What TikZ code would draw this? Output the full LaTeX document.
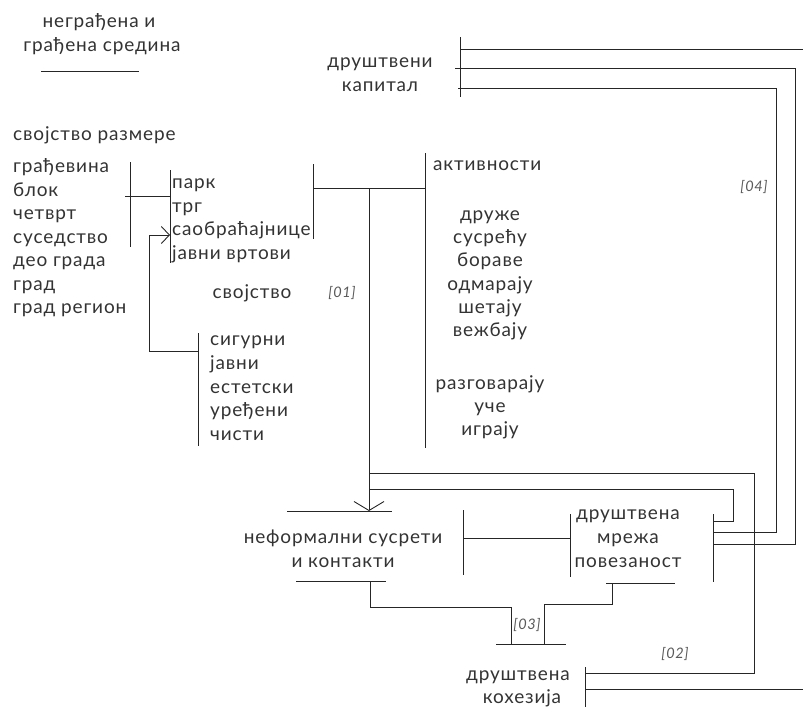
\documentclass[tikz,border=0pt]{standalone}
\usepackage{fontspec}
\setmainfont{Lato}[LetterSpace=4.5]
\usetikzlibrary{arrows.meta}

\tikzset{
  txt/.style={font=\fontsize{19}{23}\selectfont, text=black!80, inner sep=0pt, yshift=-2.5pt},
  tag/.style={font=\fontsize{14.5}{16}\selectfont\itshape, text=black!65, inner sep=0pt, yshift=-2pt},
  bar/.style={draw=black!85, line width=0.9pt},
}

\begin{document}
\begin{tikzpicture}[x=1pt,y=-1pt]
  \useasboundingbox (0,0) rectangle (803,720);

  % environment and scale
  \node[txt,anchor=mid] (env1) at (99,22) {неграђена и};
  \node[txt,anchor=mid] (env2) at (102,46) {грађена средина};
  \draw[bar] (41,71) -- (139,71);
  \node[txt,anchor=mid west] (scale) at (13,135) {својство размере};

  \foreach \t [count=\i] in {грађевина,блок,четврт,суседство,део града,град,град регион}
    \node[txt,anchor=mid west] (size\i) at (13,144+23.5*\i) {\t};

  \foreach \t [count=\i] in {парк,трг,саобраћајнице,јавни вртови}
    \node[txt,anchor=mid west] (place\i) at (172,160+23.5*\i) {\t};

  \node[txt,anchor=mid] (prop) at (252,293) {својство};
  \node[tag,anchor=mid] (t01) at (342,293) {[01]};

  \foreach \t [count=\i] in {сигурни,јавни,естетски,уређени,чисти}
    \node[txt,anchor=mid west] (qual\i) at (210,317+23.7*\i) {\t};

  % activities
  \node[txt,anchor=mid west] (act) at (433,165) {активности};
  \foreach \t [count=\i] in {друже,сусрећу,бораве,одмарају,шетају,вежбају}
    \node[txt,anchor=mid] (verb\i) at (490,192+23.3*\i) {\t};
  \foreach \t [count=\i] in {разговарају,уче,играју}
    \node[txt,anchor=mid] (talk\i) at (490,362+22.7*\i) {\t};

  % social capital, network, cohesion
  \node[txt,anchor=mid] (cap1) at (380,62) {друштвени};
  \node[txt,anchor=mid] (cap2) at (380,86) {капитал};
  \node[tag,anchor=mid] (t04) at (754,187) {[04]};

  \node[txt,anchor=mid] (inf1) at (343,538) {неформални сусрети};
  \node[txt,anchor=mid] (inf2) at (343,562) {и контакти};

  \node[txt,anchor=mid] (net1) at (628,514) {друштвена};
  \node[txt,anchor=mid] (net2) at (628,538) {мрежа};
  \node[txt,anchor=mid] (net3) at (628,562) {повезаност};

  \node[tag,anchor=mid] (t03) at (527,625) {[03]};
  \node[tag,anchor=mid] (t02) at (675,654) {[02]};
  \node[txt,anchor=mid] (coh1) at (518,675) {друштвена};
  \node[txt,anchor=mid] (coh2) at (522,698) {кохезија};

  % bars
  \coordinate (sizeR) at (130,196);
  \coordinate (placeL) at (170,196);
  \coordinate (placeR) at (313,188);
  \coordinate (actL) at (425,188);
  \coordinate (qualL) at (198,351);
  \coordinate (down) at (369,188);
  \coordinate (infT) at (369,511);
  \coordinate (infB) at (370,581);
  \coordinate (capL) at (460,49);
  \coordinate (netL) at (570,538);
  \coordinate (meetR) at (463,538);
  \coordinate (netB) at (612,583);
  \coordinate (socL) at (511,644);
  \coordinate (socR) at (544,644);

  \draw[bar] (130,162) -- (130,247);
  \draw[bar] (170,170) -- (170,263);
  \draw[bar] (313,164) -- (313,239);
  \draw[bar] (425,153) -- (425,448);
  \draw[bar] (198,333) -- (198,446);
  \draw[bar] (460,37) -- (460,97);
  \draw[bar] (463,510) -- (463,575);
  \draw[bar] (570,514) -- (570,577);
  \draw[bar] (713,514) -- (713,582);
  \draw[bar] (585,667) -- (585,707);
  \draw[bar] (287,511) -- (392,511);
  \draw[bar] (296,581) -- (386,581);
  \draw[bar] (606,583) -- (675,583);
  \draw[bar] (496,644) -- (566,644);

  % connectors
  \draw[bar] (125,196) -- (placeL);
  \draw[bar] (placeR) -- (actL);
  \draw[bar, -{Straight Barb[length=8pt,width=17pt]}] (qualL) -| (149,235) -- (170,235);
  \draw[bar, -{Straight Barb[length=9pt,width=30pt]}] (down) -- (infT);
  \draw[bar] (meetR) -- (netL);
  \draw[bar] (infB) |- (511,607) -- (socL);
  \draw[bar] (netB) |- (544,604) -- (socR);

  \draw[bar] (capL) -- (803,49);
  \draw[bar] (455,68) -| (795,544) -- (713,544);
  \draw[bar] (458,88) -| (776,532) -- (713,532);
  \draw[bar] (369,473) -| (754,673) -- (585,673);
  \draw[bar] (369,489) -| (733,521) -- (713,521);
  \draw[bar] (585,689) -- (803,689);
\end{tikzpicture}
\end{document}
